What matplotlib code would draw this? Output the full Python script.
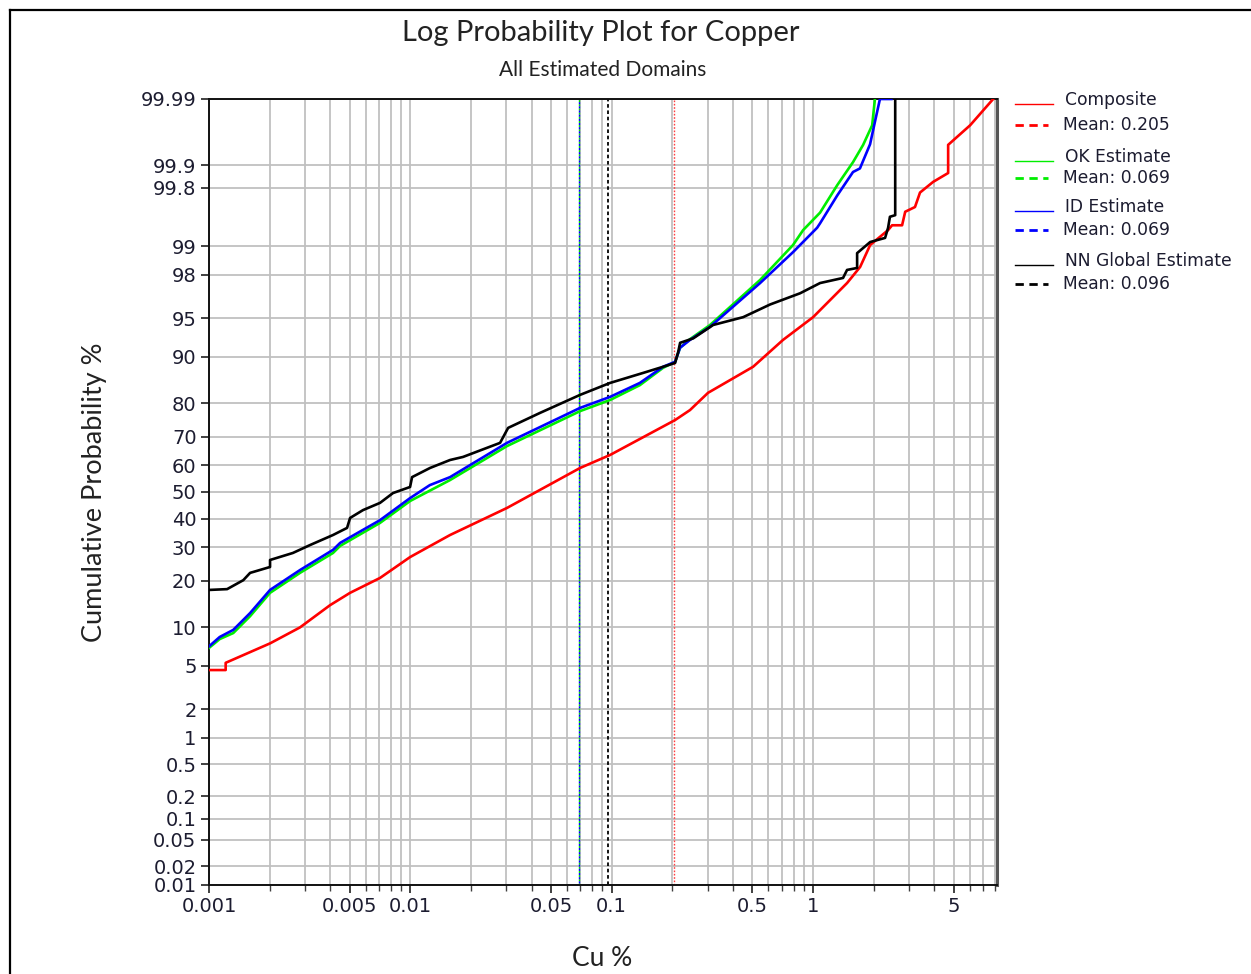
import math
import numpy as np
import matplotlib
matplotlib.use("Agg")
import matplotlib.pyplot as plt
from matplotlib.lines import Line2D
from matplotlib.ticker import FixedLocator, FixedFormatter, LogLocator, NullFormatter

# ---------------- data ----------------
comp_x = [0.001, 0.00121, 0.00121, 0.00201, 0.00283, 0.00399, 0.00502, 0.00707, 0.00997,
          0.01575, 0.0302, 0.0697, 0.0982, 0.2065, 0.245, 0.301, 0.504, 0.710, 1.001,
          1.476, 1.714, 1.923, 2.36, 2.47, 2.77, 2.87, 3.21, 3.40, 3.95, 4.69, 4.69, 6.03, 7.85]
comp_p = [4.6, 4.6, 5.3, 7.6, 10.0, 14.2, 17.0, 20.8, 26.9,
          34.2, 44.0, 59.0, 63.7, 75.2, 78.1, 82.6, 88.2, 92.5, 95.1,
          97.6, 98.34, 99.03, 99.34, 99.42, 99.42, 99.60, 99.65, 99.77, 99.833, 99.873, 99.949, 99.974, 99.99]

ok_x = [0.001, 0.00113, 0.00132, 0.0016, 0.00201, 0.00283, 0.00413, 0.00448, 0.00707, 0.00997,
        0.01575, 0.0302, 0.0697, 0.0982, 0.138, 0.180, 0.2065, 0.2187, 0.245, 0.308, 0.546,
        0.796, 0.893, 1.084, 1.32, 1.58, 1.774, 1.967, 2.03]
ok_p = [7.0, 8.2, 9.1, 12.0, 17.0, 22.2, 28.2, 30.5, 38.5, 46.6,
        54.5, 66.8, 77.8, 80.8, 84.4, 88.0, 89.1, 91.4, 92.6, 94.3, 97.76,
        99.03, 99.34, 99.59, 99.816, 99.910, 99.949, 99.974, 99.99]

id_x = [0.001, 0.00113, 0.00132, 0.0016, 0.00201, 0.00283, 0.00413, 0.00448, 0.00707, 0.00997,
        0.0125, 0.01575, 0.0302, 0.0697, 0.0982, 0.138, 0.180, 0.2065, 0.2187, 0.245, 0.308,
        0.546, 0.796, 1.048, 1.084, 1.32, 1.58, 1.71, 1.92, 2.03, 2.15, 2.45]
id_p = [7.2, 8.5, 9.6, 12.6, 17.7, 23.0, 29.2, 31.5, 39.5, 47.7,
        52.6, 55.6, 67.9, 78.7, 81.6, 84.9, 88.2, 89.1, 91.4, 92.5, 94.1,
        97.6, 98.84, 99.38, 99.45, 99.75, 99.877, 99.89, 99.95, 99.977, 99.99, 99.99]

nn_x = [0.001, 0.00123, 0.00148, 0.0016, 0.00201, 0.00201, 0.00261, 0.00318, 0.00413, 0.00485,
        0.00502, 0.00582, 0.00707, 0.0082, 0.00997, 0.0102, 0.01253, 0.01575, 0.01827, 0.0279,
        0.0306, 0.0441, 0.0697, 0.0982, 0.143, 0.180, 0.2065, 0.2138, 0.2187, 0.254, 0.319,
        0.45, 0.612, 0.863, 1.084, 1.41, 1.476, 1.656, 1.656, 1.923, 2.28, 2.36, 2.41, 2.56, 2.56]
nn_p = [17.7, 17.9, 20.2, 22.2, 23.9, 26.0, 28.2, 30.8, 34.2, 36.7,
        40.3, 43.2, 45.9, 49.6, 51.9, 55.6, 59.0, 61.9, 63.0, 67.9,
        72.8, 77.3, 82.1, 84.9, 87.0, 88.2, 88.9, 90.7, 92.1, 92.7, 94.3,
        95.1, 96.2, 97.0, 97.6, 97.86, 98.22, 98.3, 98.81, 99.10, 99.19, 99.38, 99.54, 99.56, 99.99]

series_names = ["Composite", "OK Estimate", "ID Estimate", "NN Global Estimate"]
series_means = [0.205, 0.069, 0.069, 0.096]
series_colors = ["#ff0000", "#00ee00", "#0000ff", "#000000"]

x_tick_vals = [0.001, 0.005, 0.01, 0.05, 0.1, 0.5, 1, 5]
x_tick_labels = ["0.001", "0.005", "0.01", "0.05", "0.1", "0.5", "1", "5"]
y_tick_vals = [0.01, 0.02, 0.05, 0.1, 0.2, 0.5, 1, 2, 5, 10, 20, 30, 40, 50, 60, 70, 80, 90,
               95, 98, 99, 99.8, 99.9, 99.99]
y_tick_labels = ["0.01", "0.02", "0.05", "0.1", "0.2", "0.5", "1", "2", "5", "10", "20", "30",
                 "40", "50", "60", "70", "80", "90", "95", "98", "99", "99.8", "99.9", "99.99"]

# ---------------- probability scale ----------------
_a = [-3.969683028665376e+01, 2.209460984245205e+02, -2.759285104469687e+02,
      1.383577518672690e+02, -3.066479806614716e+01, 2.506628277459239e+00]
_b = [-5.447609879822406e+01, 1.615858368580409e+02, -1.556989798598866e+02,
      6.680131188771972e+01, -1.328068155288572e+01]
_c = [-7.784894002430293e-03, -3.223964580411365e-01, -2.400758277161838e+00,
      -2.549732539343734e+00, 4.374664141464968e+00, 2.938163982698783e+00]
_d = [7.784695709041462e-03, 3.224671290700398e-01, 2.445134137142996e+00,
      3.754408661907416e+00]


def _ppf(p):
    p = np.clip(np.asarray(p, dtype=float), 1e-12, 1 - 1e-12)
    plow = 0.02425
    out = np.empty_like(p)
    lo = p < plow
    hi = p > 1 - plow
    mid = ~(lo | hi)
    q = np.sqrt(-2 * np.log(p[lo]))
    out[lo] = ((((((_c[0]*q+_c[1])*q+_c[2])*q+_c[3])*q+_c[4])*q+_c[5]) /
               ((((_d[0]*q+_d[1])*q+_d[2])*q+_d[3])*q+1))
    q = np.sqrt(-2 * np.log(1 - p[hi]))
    out[hi] = -((((((_c[0]*q+_c[1])*q+_c[2])*q+_c[3])*q+_c[4])*q+_c[5]) /
                ((((_d[0]*q+_d[1])*q+_d[2])*q+_d[3])*q+1))
    q = p[mid] - 0.5
    r = q * q
    out[mid] = ((((((_a[0]*r+_a[1])*r+_a[2])*r+_a[3])*r+_a[4])*r+_a[5])*q /
                (((((_b[0]*r+_b[1])*r+_b[2])*r+_b[3])*r+_b[4])*r+1))
    return out


_verf = np.vectorize(math.erf, otypes=[float])


def fwd(pct):
    return _ppf(np.asarray(pct, dtype=float) / 100.0)


def inv(z):
    z = np.asarray(z, dtype=float)
    return 100.0 * 0.5 * (1.0 + _verf(z / math.sqrt(2.0)))


# ---------------- figure ----------------
W, H = 1251, 974
fig = plt.figure(figsize=(W / 100, H / 100), dpi=100)
fig.patch.set_facecolor("white")


def fx(px):
    return px / W


def fy(py):
    return 1 - py / H


ax = fig.add_axes([fx(209), fy(885), fx(997) - fx(209), fy(99) - fy(885)])
ax.set_xscale("log")
ax.set_yscale("function", functions=(fwd, inv))
ax.set_xlim(0.001, 8.2)
ax.set_ylim(0.01, 99.99)

grid_c = "#c0c0c0"
ax.xaxis.set_major_locator(FixedLocator(x_tick_vals))
ax.xaxis.set_major_formatter(FixedFormatter(x_tick_labels))
ax.xaxis.set_minor_locator(LogLocator(base=10, subs=np.arange(1, 10), numticks=50))
ax.xaxis.set_minor_formatter(NullFormatter())
ax.yaxis.set_major_locator(FixedLocator(y_tick_vals))
ax.yaxis.set_major_formatter(FixedFormatter(y_tick_labels))
ax.yaxis.set_minor_locator(FixedLocator([]))
ax.grid(True, which="both", axis="x", color=grid_c, lw=1.3)
ax.grid(True, which="major", axis="y", color=grid_c, lw=1.3)
ax.set_axisbelow(True)

tick_c = "#1c1c30"
ax.tick_params(axis="both", which="major", direction="out", length=6, width=1.2,
               labelsize=14, labelcolor=tick_c, color="#202020", pad=3)
ax.tick_params(axis="x", which="minor", direction="out", length=4.5, width=1.0, color="#404040")
for sp in ["left", "bottom", "top"]:
    ax.spines[sp].set_color("#111111")
    ax.spines[sp].set_linewidth(1.4)
ax.spines["right"].set_color("#555555")
ax.spines["right"].set_linewidth(2.2)

# mean lines
ax.axvline(series_means[0], color="#ff4040", lw=1.0, ls=(0, (1.2, 1.2)), zorder=2)
ax.axvline(series_means[1], color="#00dd00", lw=1.0, ls=(0, (1.5, 1.5)), zorder=2)
ax.axvline(series_means[2], color="#0000ff", lw=1.0, ls=(1.5, (1.5, 1.5)), zorder=2)
ax.axvline(series_means[3], color="#000000", lw=1.3, ls=(0, (2, 1.5)), zorder=2)

# curves
lw = 1.9
ax.plot(comp_x, comp_p, color=series_colors[0], lw=lw, zorder=3)
ax.plot(ok_x, ok_p, color=series_colors[1], lw=lw, zorder=4)
ax.plot(id_x, id_p, color=series_colors[2], lw=lw, zorder=5)
ax.plot(nn_x, nn_p, color=series_colors[3], lw=lw, zorder=6)

# titles
fig.text(fx(601), fy(33), "Log Probability Plot for Copper", ha="center", va="center",
         fontsize=21, family="Lato", color="#222222")
fig.text(fx(603), fy(70), "All Estimated Domains", ha="center", va="center",
         fontsize=15, family="Lato", color="#222222")
fig.text(fx(95), fy(492), "Cumulative Probability %", ha="center", va="center",
         rotation=90, fontsize=19.5, family="Lato", color="#222222")
fig.text(fx(602), fy(958), "Cu %", ha="center", va="center", fontsize=19,
         family="Lato", color="#222222")

# legend (manual)
leg_rows = [(100, 125), (157, 178), (207, 230), (261, 284)]
for (ny, my), name, mean, col in zip(leg_rows, series_names, series_means, series_colors):
    fig.add_artist(Line2D([fx(1015), fx(1053)], [fy(ny + 4), fy(ny + 4)], color=col, lw=1.0))
    fig.text(fx(1065), fy(ny), name, ha="left", va="center", fontsize=12.3,
             color=tick_c, family="DejaVu Sans")
    fig.add_artist(Line2D([fx(1015), fx(1048)], [fy(my), fy(my)], color=col, lw=2.0,
                          ls=(0, (3, 2))))
    fig.text(fx(1063), fy(my), f"Mean: {mean:.3f}", ha="left", va="center", fontsize=12.3,
             color=tick_c, family="DejaVu Sans")

# outer frame (left and top edges)
fig.add_artist(Line2D([fx(10), fx(10)], [fy(10), 0], color="black", lw=1.6))
fig.add_artist(Line2D([fx(10), 1], [fy(10), fy(10)], color="black", lw=1.6))

fig.savefig("out.png", dpi=100, facecolor="white")
